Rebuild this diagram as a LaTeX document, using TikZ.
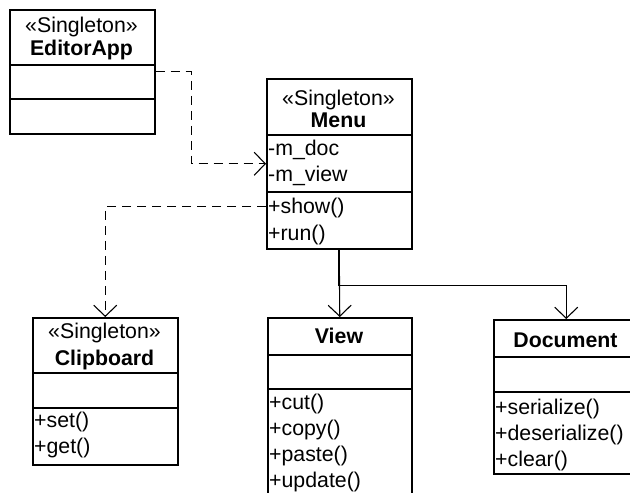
\documentclass[tikz,border=0pt]{standalone}
\usepackage{fontspec}
\setmainfont{Liberation Sans}
\usetikzlibrary{arrows.meta}
\begin{document}
\begin{tikzpicture}[x=1pt,y=-1pt,
  box/.style={draw, line width=1.5pt, anchor=north west, inner sep=0pt},
  txt/.style={inner sep=0pt, font=\fontsize{21.3}{25}\selectfont},
  ttl/.style={txt, anchor=base},
  ttlb/.style={inner sep=0pt, anchor=base, font=\fontsize{21.3}{25}\selectfont\bfseries},
  mem/.style={txt, anchor=base west},
  divl/.style={line width=1.5pt},
  dep/.style={line width=1.1pt, dash pattern=on 9pt off 6pt, -{Straight Barb[length=11pt,width=23pt]}},
  assoc/.style={line width=1.1pt, -{Straight Barb[length=11pt,width=23pt]}}
]
\clip (0,0) rectangle (630,493);
\fill[white] (0,0) rectangle (630,493);

% EditorApp
\node[box, minimum width=145pt, minimum height=124pt] (editor) at (9,9) {};
\draw[divl] (editor.west |- 0,65) -- (editor.east |- 0,65);
\draw[divl] (editor.west |- 0,99) -- (editor.east |- 0,99);
\node[ttl] (editorS) at (81.5,32) {«Singleton»};
\node[ttlb] (editorN) at (81.5,55) {EditorApp};

% Menu
\node[box, minimum width=145pt, minimum height=170pt] (menu) at (266,78) {};
\draw[divl] (menu.west |- 0,135) -- (menu.east |- 0,135);
\draw[divl] (menu.west |- 0,192) -- (menu.east |- 0,192);
\node[ttl] (menuS) at (338.5,105) {«Singleton»};
\node[ttlb] (menuN) at (338.5,127) {Menu};
\node[mem] (menuA1) at (268,155) {-m\_doc};
\node[mem] (menuA2) at (268,181) {-m\_view};
\node[mem] (menuM1) at (268,213) {+show()};
\node[mem] (menuM2) at (268,240) {+run()};

% Clipboard
\node[box, minimum width=145pt, minimum height=147pt] (clip) at (32,317) {};
\draw[divl] (clip.west |- 0,373) -- (clip.east |- 0,373);
\draw[divl] (clip.west |- 0,408) -- (clip.east |- 0,408);
\node[ttl] (clipS) at (104.5,338) {«Singleton»};
\node[ttlb] (clipN) at (104.5,365) {Clipboard};
\node[mem] (clipM1) at (34,427) {+set()};
\node[mem] (clipM2) at (34,453) {+get()};

% View
\node[box, minimum width=144pt, minimum height=200pt] (view) at (267,317) {};
\draw[divl] (view.west |- 0,355) -- (view.east |- 0,355);
\draw[divl] (view.west |- 0,389) -- (view.east |- 0,389);
\node[ttlb] (viewN) at (339,343) {View};
\node[mem] (viewM1) at (269,409) {+cut()};
\node[mem] (viewM2) at (269,435) {+copy()};
\node[mem] (viewM3) at (269,461) {+paste()};
\node[mem] (viewM4) at (269,487) {+update()};

% Document
\node[box, minimum width=145pt, minimum height=154pt] (doc) at (493,319) {};
\draw[divl] (doc.west |- 0,357) -- (doc.east |- 0,357);
\draw[divl] (doc.west |- 0,392) -- (doc.east |- 0,392);
\node[ttlb] (docN) at (565.5,347) {Document};
\node[mem] (docM1) at (495,414) {+serialize()};
\node[mem] (docM2) at (495,440) {+deserialize()};
\node[mem] (docM3) at (495,466) {+clear()};

% Connectors
\draw[dep] (editor.east) -- ++(36,0) |- (menu.west);
\draw[dep] ([yshift=43pt]menu.south west) -| (clip.north);
\draw[assoc] (menu.south) -- (view.north);
\draw[assoc] (menu.south) -- ++(0,36) -| (doc.north);
\draw[line width=2pt] (menu.south) -- ++(0,36);
\end{tikzpicture}
\end{document}
